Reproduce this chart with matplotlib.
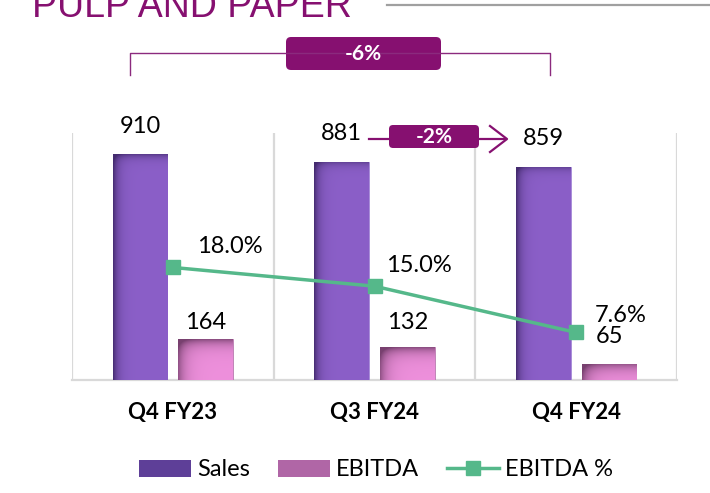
import numpy as np
import matplotlib
matplotlib.use("Agg")
import matplotlib.pyplot as plt
from matplotlib.patches import FancyBboxPatch, Patch
from matplotlib.lines import Line2D
from matplotlib.transforms import IdentityTransform

plt.rcParams['font.family'] = ['Lato', 'DejaVu Sans']

# data
categories = ["Q4 FY23", "Q3 FY24", "Q4 FY24"]
sales = [910, 881, 859]
ebitda = [164, 132, 65]
ebitda_pct = [18.0, 15.0, 7.6]
sales_change_total = "-6%"
sales_change_qoq = "-2%"

# label nudges (pixels), chart style only
ebitda_label_dy = [17, 25, 27]
pct_label_dx = [24, 12, 19]
pct_label_dy = [21, 21, 17]

W, H = 710, 493
fig = plt.figure(figsize=(W / 100, H / 100), dpi=100)
ax = fig.add_axes([72 / W, 113 / H, 605 / W, 247 / H])
ax2 = ax.twinx()

purple = "#861070"
green = "#55B88A"
grid = "#D9D9D9"


def px(x, y):
    # pixel from top-left -> display coords
    return x, H - y


x = np.arange(len(categories))
bw = 0.272
off = 0.163
sales_bars = ax.bar(x - off, sales, bw, color="#8B5FC8", edgecolor="#A58AD8", lw=0.6, zorder=3)
ebitda_bars = ax.bar(x + off, ebitda, bw, color="#EC8FDB", edgecolor="#B77AAE", lw=0.6, zorder=3)

ax.set_xlim(-0.5, 2.5)
ax.set_ylim(0, 996)
ax2.set_ylim(0, 39.5)


def shade(bar, base, dark, kx, ky, amt_x, amt_y):
    bx, bwid, bh = bar.get_x(), bar.get_width(), bar.get_height()
    p0 = ax.transData.transform((bx, 0))
    p1 = ax.transData.transform((bx + bwid, bh))
    nx = max(int(p1[0] - p0[0]), 2)
    ny = max(int(p1[1] - p0[1]), 2)
    xp = np.arange(nx)[None, :]
    yp = np.arange(ny)[:, None]
    mix = amt_x * np.exp(-xp / kx) + amt_y * np.exp(-yp / ky)
    mix = np.clip(mix, 0, 0.92)[..., None]
    b = np.array(matplotlib.colors.to_rgb(base))
    d = np.array(matplotlib.colors.to_rgb(dark))
    img = b * (1 - mix) + d * mix
    im = ax.imshow(img, extent=[bx, bx + bwid, 0, bh], origin="upper",
                   aspect="auto", zorder=3.5, interpolation="bilinear")
    im.set_clip_path(bar)


for b in sales_bars:
    shade(b, "#8B5FC8", "#3E2768", 5, 4, 0.85, 0.6)
for b in ebitda_bars:
    shade(b, "#EE90DC", "#6E3A66", 7, 6, 0.7, 0.75)

ax.set_xlim(-0.5, 2.5)
ax.set_ylim(0, 996)

# category separators
for xv in [-0.5, 0.5, 1.5, 2.5]:
    ax.axvline(xv, color=grid, lw=1.6, zorder=1)

for s in ["top", "left", "right"]:
    ax.spines[s].set_visible(False)
    ax2.spines[s].set_visible(False)
ax2.spines["bottom"].set_visible(False)
ax.spines["bottom"].set_color(grid)
ax.spines["bottom"].set_linewidth(1.6)
ax.set_yticks([])
ax2.set_yticks([])
ax.set_xticks(x)
ax.set_xticklabels(categories, fontsize=16, fontweight="bold")
ax.tick_params(axis="x", length=0, pad=16)

# EBITDA % line
ax2.plot(x, ebitda_pct, color=green, lw=2.5, marker="s", markersize=10, zorder=5)

for i in range(len(categories)):
    ax.annotate(f"{sales[i]}", (x[i] - off, sales[i]), xytext=(0, 28 * 0.72),
                textcoords="offset points", ha="center", va="center", fontsize=17)
    ax.annotate(f"{ebitda[i]}", (x[i] + off, ebitda[i]), xytext=(0, ebitda_label_dy[i] * 0.72),
                textcoords="offset points", ha="center", va="center", fontsize=17)
    ax2.annotate(f"{ebitda_pct[i]:.1f}%", (x[i], ebitda_pct[i]),
                 xytext=(pct_label_dx[i] * 0.72, pct_label_dy[i] * 0.72),
                 textcoords="offset points", ha="left", va="center", fontsize=17)

ident = IdentityTransform()

# -6% bracket
bx = [130, 130, 550, 550]
by = [75, 53, 53, 75]
fig.add_artist(Line2D([px(a, b)[0] for a, b in zip(bx, by)],
                      [px(a, b)[1] for a, b in zip(bx, by)],
                      transform=ident, color="#8B2A7E", lw=1.0))
fig.add_artist(FancyBboxPatch(px(286, 70), 155, 33, boxstyle="round,pad=0,rounding_size=5",
                              transform=ident, facecolor=purple, edgecolor="none"))
fig.text(363.5, H - 54, sales_change_total, transform=ident, color="white",
         fontsize=15, fontweight="bold", ha="center", va="center")

# -2% arrow
fig.add_artist(Line2D([369, 505], [H - 139, H - 139], transform=ident, color=purple, lw=1.6))
fig.add_artist(Line2D([490, 507, 490], [H - 126, H - 139, H - 152], transform=ident,
                      color=purple, lw=1.6))
fig.add_artist(FancyBboxPatch(px(389, 148), 90, 23, boxstyle="round,pad=0,rounding_size=4",
                              transform=ident, facecolor=purple, edgecolor="none"))
fig.text(434, H - 137, sales_change_qoq, transform=ident, color="white",
         fontsize=15, fontweight="bold", ha="center", va="center")

# title, cut off at the top
fig.text(32, H - 17, "PULP AND PAPER", transform=ident, color=purple, fontsize=27,
         family=["Liberation Sans Narrow", "Liberation Sans"], va="baseline", ha="left")
fig.add_artist(Line2D([387, 710], [H - 5, H - 5], transform=ident, color="#A0A0A0", lw=1.6))

# legend
handles = [Patch(facecolor="#5E3F98", edgecolor="none"),
           Patch(facecolor="#B066A6", edgecolor="none"),
           Line2D([], [], color=green, lw=2.5, marker="s", markersize=10)]
fig.legend(handles, ["Sales", "EBITDA", "EBITDA %"], loc="center", ncol=3,
           bbox_to_anchor=(376 / W, 1 - 470 / H), frameon=False, fontsize=17,
           handlelength=2.2, handleheight=0.7, handletextpad=0.25, columnspacing=1.2)

fig.savefig("out.png", dpi=100)
